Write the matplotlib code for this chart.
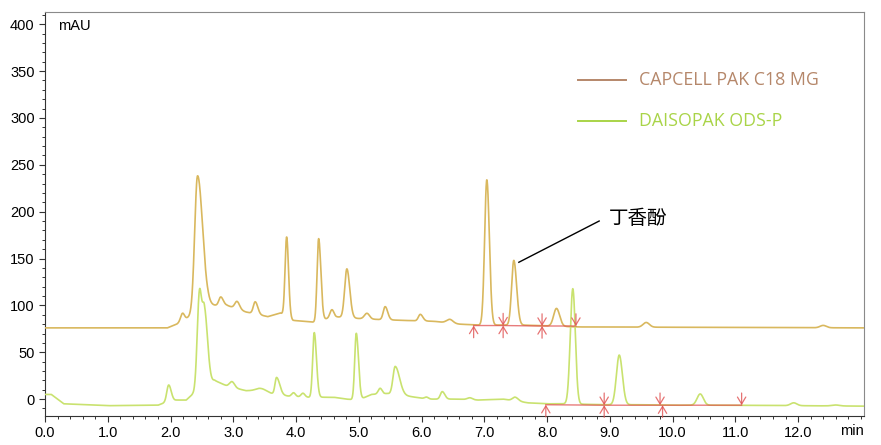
import numpy as np
import matplotlib

matplotlib.use("Agg")
import matplotlib.pyplot as plt
from matplotlib.ticker import MultipleLocator

plt.rcParams["font.family"] = ["Liberation Sans", "DejaVu Sans"]

# CAPCELL PAK C18 MG trace: baseline knots (min, mAU) and peaks (time, height, left sigma, right sigma)
capcell_base_t = [0.0, 1.95, 2.1, 2.3, 2.6, 2.9, 3.2, 3.55, 3.75, 3.95, 4.3, 4.6, 5.0, 5.3, 5.7, 6.2, 6.6, 6.9, 7.6, 8.5, 13.05]
capcell_base_v = [76, 76, 80, 88, 100, 100, 93, 88, 92, 84, 82, 88, 86, 85, 84, 83, 80, 79, 79, 77, 76]
capcell_peak_t = [2.19, 2.43, 2.80, 3.06, 3.35, 3.85, 4.36, 4.57, 4.81, 5.13, 5.42, 5.98, 6.45, 7.04, 7.47, 8.15, 9.58, 12.4]
capcell_peak_h = [8, 145, 9, 8, 13, 85, 88, 8, 52, 6, 14, 7, 4, 155, 69, 19, 5, 2.5]
capcell_peak_sl = [0.03, 0.045, 0.03, 0.035, 0.03, 0.025, 0.025, 0.03, 0.035, 0.04, 0.03, 0.03, 0.05, 0.035, 0.035, 0.045, 0.05, 0.05]
capcell_peak_sr = [0.03, 0.08, 0.04, 0.04, 0.04, 0.03, 0.035, 0.03, 0.045, 0.04, 0.04, 0.04, 0.05, 0.04, 0.045, 0.05, 0.05, 0.05]

# DAISOPAK ODS-P trace
daiso_base_t = [0.0, 0.1, 0.3, 1.0, 1.8, 1.9, 2.1, 2.25, 2.35, 2.7, 2.9, 3.2, 3.4, 3.6, 3.9, 4.2, 4.6, 4.8, 5.0, 5.2, 5.45, 5.8, 6.1, 6.6, 6.9, 7.3, 7.7, 8.0, 8.3, 8.9, 9.5, 10.0, 11.0, 13.05]
daiso_base_v = [5, 5, -5, -7, -6.5, -4, -1, -1, 5, 20, 14, 9, 9, 6, 3, 2, 2, 0, -1, 5, 6, 3, 0, 0, -1, 0, -4, -5, -5, -6, -6, -6.5, -6.5, -7.5]
daiso_peak_t = [1.97, 2.46, 2.54, 2.98, 3.45, 3.69, 3.96, 4.11, 4.29, 4.96, 5.34, 5.58, 6.08, 6.33, 6.77, 7.49, 8.41, 9.15, 10.44, 11.93, 12.6]
daiso_peak_h = [18, 101, 80, 6, 3, 18, 4, 4, 69, 71, 6, 30, 2, 8, 2, 4, 123, 53, 12, 3, 1]
daiso_peak_sl = [0.03, 0.035, 0.035, 0.04, 0.08, 0.025, 0.03, 0.03, 0.025, 0.025, 0.03, 0.035, 0.03, 0.03, 0.04, 0.04, 0.04, 0.045, 0.05, 0.05, 0.06]
daiso_peak_sr = [0.04, 0.035, 0.05, 0.04, 0.08, 0.05, 0.03, 0.03, 0.035, 0.035, 0.03, 0.07, 0.03, 0.04, 0.04, 0.05, 0.04, 0.05, 0.05, 0.05, 0.06]

# integration baseline events: time, level, kind (up / both / down)
capcell_evt_t = [6.83, 7.30, 7.92, 8.46]
capcell_evt_v = [78.5, 78.5, 78, 78]
capcell_evt_k = ["up", "both", "both", "down"]
daiso_evt_t = [7.98, 8.91, 9.80, 9.84, 11.10]
daiso_evt_v = [-6, -6.5, -6.5, -6.5, -6.5]
daiso_evt_k = ["up", "both", "down", "up", "down"]

x_ticks = [0.0, 1.0, 2.0, 3.0, 4.0, 5.0, 6.0, 7.0, 8.0, 9.0, 10.0, 11.0, 12.0]

TRACE_COLORS = {"capcell": "#d9b85e", "daiso": "#c9e26f"}
LEGEND_COLORS = {"capcell": "#b5876a", "daiso": "#a9d448"}
EVENT_RED = "#e05050"


def build_trace(t, base_t, base_v, pk_t, pk_h, pk_sl, pk_sr):
    y = np.interp(t, base_t, base_v).astype(float)
    for c, h, sl, sr in zip(pk_t, pk_h, pk_sl, pk_sr):
        sigma = np.where(t < c, sl, sr)
        y += h * np.exp(-0.5 * ((t - c) / sigma) ** 2)
    return y


def draw_events(axis, ev_t, ev_v, ev_k):
    axis.plot(ev_t, ev_v, color=EVENT_RED, lw=1.0, alpha=0.75, zorder=4)
    arrow = dict(arrowstyle="->,head_length=0.5,head_width=0.3", color=EVENT_RED, lw=0.9,
                 alpha=0.8, shrinkA=0, shrinkB=0, mutation_scale=10)
    for t, v, k in zip(ev_t, ev_v, ev_k):
        if k in ("up", "both"):
            axis.annotate("", xy=(t, v), xytext=(t, v - 13), arrowprops=arrow, zorder=5)
        if k in ("down", "both"):
            axis.annotate("", xy=(t, v), xytext=(t, v + 13), arrowprops=arrow, zorder=5)


t = np.linspace(0.0, 13.05, 4000)
capcell = build_trace(t, capcell_base_t, capcell_base_v, capcell_peak_t, capcell_peak_h, capcell_peak_sl, capcell_peak_sr)
daiso = build_trace(t, daiso_base_t, daiso_base_v, daiso_peak_t, daiso_peak_h, daiso_peak_sl, daiso_peak_sr)

fig = plt.figure(figsize=(8.81, 4.45), dpi=100)
ax = fig.add_axes([0.0511, 0.0652, 0.9296, 0.9078])

ax.plot(t, capcell, color=TRACE_COLORS["capcell"], lw=1.2, zorder=3)
ax.plot(t, daiso, color=TRACE_COLORS["daiso"], lw=1.2, zorder=3)
draw_events(ax, capcell_evt_t, capcell_evt_v, capcell_evt_k)
draw_events(ax, daiso_evt_t, daiso_evt_v, daiso_evt_k)

ax.set_xlim(0, 13.05)
ax.set_ylim(-18, 413)
ax.set_xticks(x_ticks)
ax.set_xticklabels([f"{v:.1f}" for v in x_ticks])
ax.xaxis.set_minor_locator(MultipleLocator(0.2))
ax.yaxis.set_major_locator(MultipleLocator(50))
ax.yaxis.set_minor_locator(MultipleLocator(10))
ax.tick_params(which="major", length=4, width=0.8, labelsize=10.5, color="#333333")
ax.tick_params(which="minor", length=2.5, width=0.7, color="#333333")
for name in ("top", "right"):
    ax.spines[name].set_color("#8a8a8a")
for name in ("left", "bottom"):
    ax.spines[name].set_color("#333333")

ax.text(0.2, 398, "mAU", fontsize=10.5, va="center", ha="left")
ax.text(12.86, -27, "min", fontsize=10.5, va="top", ha="center")

# legend drawn by hand to match the instrument software style
ax.plot([8.5, 9.25], [340, 340], color=LEGEND_COLORS["capcell"], lw=1.4)
ax.plot([8.5, 9.25], [297, 297], color=LEGEND_COLORS["daiso"], lw=1.4)
ax.text(9.47, 340, "CAPCELL PAK C18 MG", color=LEGEND_COLORS["capcell"], fontsize=12.8,
        va="center", family=["Open Sans", "DejaVu Sans"])
ax.text(9.47, 297, "DAISOPAK ODS-P", color=LEGEND_COLORS["daiso"], fontsize=12.8,
        va="center", family=["Open Sans", "DejaVu Sans"])

ax.plot([7.55, 8.83], [146, 190], color="black", lw=1.0)
ax.text(8.98, 193, "丁香酚", fontsize=14, va="center", ha="left",
        family=["Noto Sans CJK SC", "DejaVu Sans"])

fig.savefig("out.png", dpi=100)
